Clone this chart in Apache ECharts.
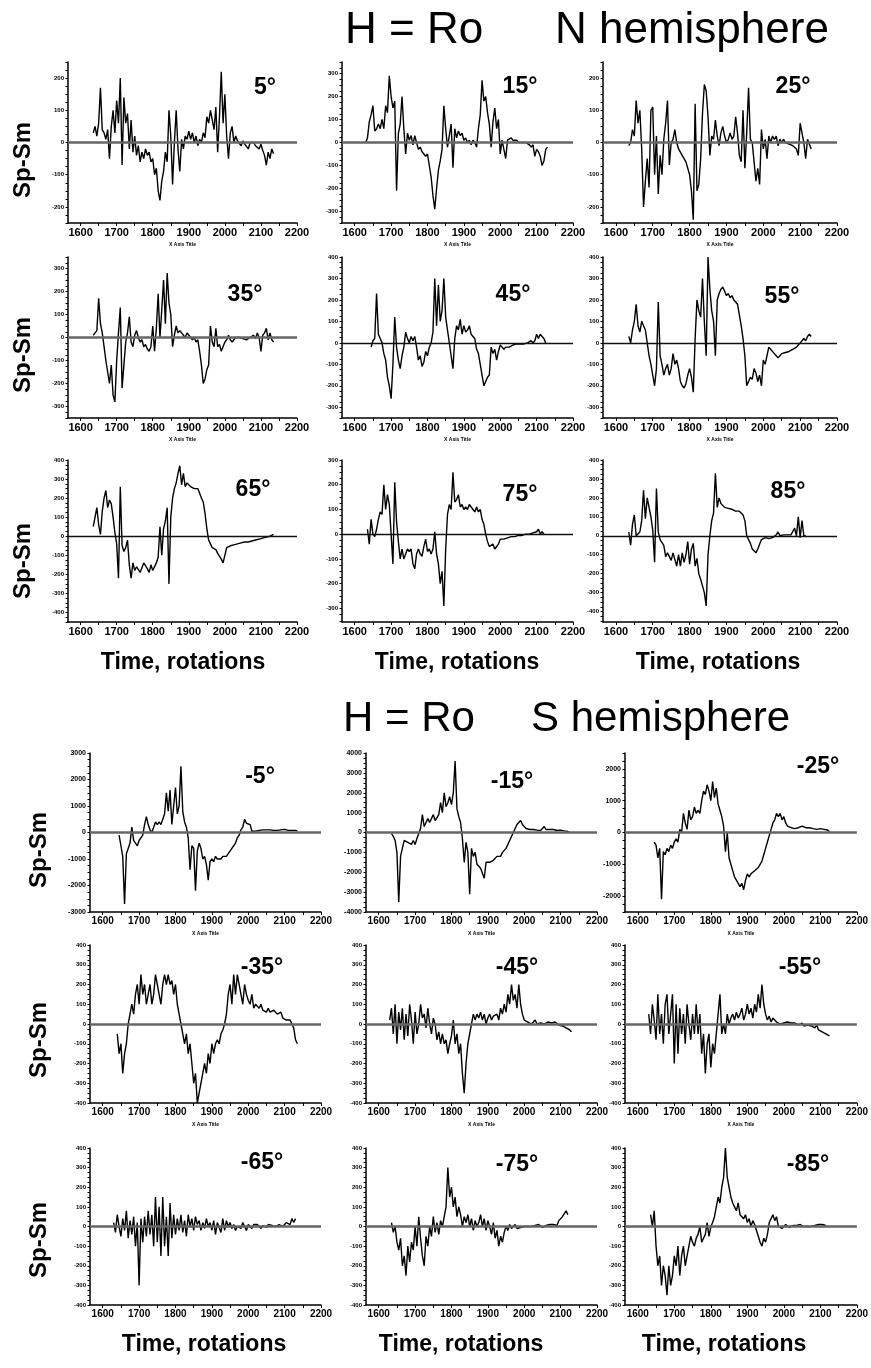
<!DOCTYPE html>
<html>
<head>
<meta charset="utf-8">
<script src="https://cdn.jsdelivr.net/npm/echarts@6/dist/echarts.min.js"></script>
<style>
html, body { margin: 0; padding: 0; background: #fff; }
#chart { width: 871px; height: 1368px; }
</style>
</head>
<body>
<div id="chart"></div>
<script>
// Carrington rotation numbers (every 5th rotation)
var rotations = [
  1625, 1630, 1635, 1640, 1645, 1650, 1655, 1660, 1665, 1670,
  1675, 1680, 1685, 1690, 1695, 1700, 1705, 1710, 1715, 1720,
  1725, 1730, 1735, 1740, 1745, 1750, 1755, 1760, 1765, 1770,
  1775, 1780, 1785, 1790, 1795, 1800, 1805, 1810, 1815, 1820,
  1825, 1830, 1835, 1840, 1845, 1850, 1855, 1860, 1865, 1870,
  1875, 1880, 1885, 1890, 1895, 1900, 1905, 1910, 1915, 1920,
  1925, 1930, 1935, 1940, 1945, 1950, 1955, 1960, 1965, 1970,
  1975, 1980, 1985, 1990, 1995, 2000, 2005, 2010, 2015, 2020,
  2025, 2030, 2035, 2040, 2045, 2050, 2055, 2060, 2065, 2070,
  2075, 2080, 2085, 2090, 2095, 2100, 2105, 2110, 2115, 2120,
  2125, 2130, 2135, 2140
];

// N hemisphere, Sp-Sm
var n05 = [
  null, null, 30, 50, 20, 60, 170, 40, 30, 10,
  40, -50, 50, 100, 30, 130, 60, 200, -70, 140,
  60, 90, -20, 70, -30, 20, -40, -10, -60, -30,
  -50, -20, -40, -30, -60, -50, -100, -80, -150, -180,
  -120, -90, -30, -60, 100, 20, -130, 0, 100, -20,
  -90, 10, -20, 20, 10, 35, 10, 30, 0, 20,
  -10, 10, 0, 30, 15, 80, 60, 100, 70, 40,
  110, -30, 80, 220, 60, 150, 20, -50, 30, 50,
  0, 20, 5, 10, -10, 5, -5, 0, -20, 0,
  5, 0, -10, -15, -20, -5, -25, -40, -70, -30,
  -50, -20, -35, null
];
var n15 = [
  null, 0, 20, 90, 120, 160, 50, 60, 80, 60,
  100, 60, 160, 130, 290, 200, 150, 180, -210, 40,
  80, 200, 60, -50, 40, 10, 30, -10, 30, 0,
  -30, -20, -40, -50, -60, -50, -100, -150, -230, -290,
  -200, -120, -80, -30, 160, 60, -20, 30, 80, -110,
  60, 20, 50, 30, 40, 10, 20, 0, 10, -10,
  10, 0, -20, 60, 120, 270, 180, 200, 130, 80,
  -20, 90, 150, 60, 100, -50, 10, -30, -70, 10,
  10, 20, 10, 15, 10, 0, 5, 0, -5, 0,
  -5, -10, -20, -10, -60, -30, -40, -60, -100, -80,
  -30, -20, null, null
];
var n25 = [
  null, null, -10, 0, 40, 20, 130, 60, 100, -20,
  -200, -120, -50, -140, 100, 110, -100, 20, -160, -40,
  -100, 10, 60, 130, -70, 0, 10, 40, 0, -20,
  -30, -40, -50, -60, -80, -100, -150, -240, 120, -150,
  -130, -50, 90, 180, 160, 80, -40, 20, 10, 70,
  20, -10, 30, 50, 20, 0, 10, 30, 10, 20,
  80, 30, -40, -60, 100, -80, 30, 170, 10, 0,
  -60, -120, -80, -130, 40, -20, 10, -50, 20, 0,
  20, 10, 20, -10, 10, 0, 10, 0, 5, -5,
  0, -10, -5, -20, -40, 60, 30, 0, -50, 10,
  10, -20, null, null
];
var n35 = [
  null, null, 10, 20, 30, 170, 60, 20, -40, -100,
  -150, -200, -120, -250, -280, -100, 20, 130, -220, -120,
  -20, 20, 90, -20, -40, 10, 30, 0, -20, -10,
  -40, -30, -50, -60, -40, 50, -60, 40, 190, 0,
  120, 250, 60, 280, 150, 100, -40, 10, 50, 20,
  30, 20, 20, 0, 20, 10, 10, -10, 0, -20,
  -10, -60, -120, -200, -180, -140, -120, 50, -20, -40,
  40, -40, -30, -60, -40, -20, -10, 10, -10, -20,
  -10, 0, -5, 0, 0, -5, 0, -10, -10, 0,
  0, 10, -5, 20, 0, -60, 10, 20, 40, -10,
  20, -10, -20, null
];
var n45 = [
  null, null, null, null, -20, 10, 20, 230, 40, 20,
  0, -50, -80, -160, -200, -260, -100, 120, -20, -80,
  -120, -60, -20, 50, 20, 0, 30, 10, 30, -20,
  -80, -60, -110, -90, -40, -60, -20, 0, 50, 300,
  80, 270, 100, 150, 300, 120, 60, 0, -60, -120,
  20, 80, 60, 110, 40, 80, 50, 60, 80, 40,
  30, 20, -30, -50, -100, -150, -200, -180, -160, -150,
  -20, -50, -30, -80, -40, -10, -20, -30, -20, -20,
  -20, -15, -10, -10, -5, -10, -5, 0, -5, 0,
  0, 5, 10, 0, 10, 40, 20, 40, 30, 20,
  0, null, null, null
];
var n55 = [
  null, null, 30, 0, 60, 100, 180, 80, 50, 100,
  80, 60, 0, -60, -100, -150, -200, -120, 190, -60,
  -100, -150, -120, -100, -150, -120, -50, -100, -80, -120,
  -180, -200, -210, -190, -150, -120, -160, -230, 20, 200,
  150, 120, 300, 100, -60, 400, 250, 150, 100, -60,
  200, 230, 250, 260, 240, 220, 230, 210, 220, 200,
  190, 180, 130, 80, 20, -60, -200, -180, -160, -170,
  -120, -140, -180, -150, -200, -80, -100, -60, -20, -30,
  -40, -50, -60, -70, -60, -50, -50, -45, -40, -40,
  -35, -30, -30, -20, -10, 0, 10, 20, 10, 30,
  40, 30, null, null
];
var n65 = [
  null, null, 50, 100, 150, 60, 10, 130, 200, 240,
  150, 190, 170, 100, 20, -40, -220, 260, -50, -80,
  -60, -20, -150, -220, -140, -180, -160, -150, -190, -200,
  -140, -130, -170, -190, -150, -180, -170, -140, -110, 50,
  -100, 40, 80, 150, -250, 100, 200, 250, 280, 330,
  370, 270, 330, 260, 280, 290, 260, 270, 250, 260,
  250, 240, 200, 180, 120, 40, -20, -40, -60, -70,
  -70, -90, -100, -120, -140, -150, -60, -70, -50, -50,
  -45, -45, -40, -40, -35, -35, -30, -30, -30, -25,
  -25, -20, -20, -15, -15, -10, -10, -10, -5, -5,
  0, 5, 10, null
];
var n75 = [
  null, null, 20, -40, 60, 0, -10, 20, 60, 90,
  80, 200, 100, 160, 120, 0, -120, 210, 50, -30,
  -100, -60, -100, -80, -60, -70, -60, -120, -140, -80,
  -60, -80, -90, -50, -20, -70, -60, -80, -60, 10,
  -80, -120, -200, -150, -290, -60, 80, 120, 100, 250,
  130, 140, 160, 110, 120, 100, 110, 100, 120, 110,
  100, 90, 110, 90, 100, 60, 40, 0, -30, -50,
  -50, -40, -60, -60, -40, -20, -25, -20, -20, -15,
  -15, -10, -10, -10, -10, -5, -5, -5, 0, 0,
  0, 0, 5, 5, 5, 10, 20, 0, 10, 0,
  null, null, null, null
];
var n85 = [
  null, null, 20, -50, 60, 110, 0, 10, 20, 80,
  240, 90, 200, 150, 100, 30, -140, 250, 20, -20,
  -20, -50, -110, -90, -100, -130, -90, -80, -160, -100,
  -160, -90, -140, -100, -30, -150, -70, -40, -160, -120,
  -200, -230, -230, -300, -370, -100, 0, 80, 120, 330,
  150, 200, 170, 160, 150, 140, 145, 150, 140, 150,
  130, 140, 130, 120, 110, 80, 0, -20, -40, -70,
  -80, -90, -70, -60, -20, -20, -10, -10, -15, -5,
  -10, 0, 5, 20, 0, 0, 5, 0, 5, 10,
  5, 10, 40, 0, 100, -10, 80, 0, 0, null,
  null, null, null, null
];

// S hemisphere, Sp-Sm
var s05 = [
  null, null, null, null, -100, -500, -900, -2700, -800, -600,
  -400, 200, -300, -400, -500, -300, -200, -100, 300, 600,
  300, 100, 0, 200, 400, 300, 400, 300, 500, 700,
  1500, 800, 1600, 300, 1000, 1700, 700, 1000, 2500, 800,
  400, 200, -200, -1400, -500, -600, -2200, -700, -400, -600,
  -1000, -900, -1200, -1800, -1100, -1000, -1100, -900, -1000, -950,
  -1000, -900, -850, -900, -800, -700, -600, -500, -400, -200,
  -100, 100, 200, 500, 350, 400, 300, 50, 80, 50,
  60, 80, 60, 100, 80, 100, 80, 100, 150, 80,
  100, 80, 150, 100, 80, 120, 100, 80, 150, 80,
  100, 80, 60, null
];
var s15 = [
  null, null, -50, -200, -400, -1000, -3500, -1200, -800, -400,
  -300, -500, -400, -600, -400, -600, -300, -200, 200, 900,
  300, 500, 700, 500, 500, 900, 600, 700, 900, 1500,
  1000, 2000, 1300, 1500, 1800, 1400, 2000, 3600, 1200, 800,
  500, -300, -1500, -500, -1000, -3100, -800, -1200, -1000, -1600,
  -1500, -1800, -1700, -2300, -1500, -1600, -1500, -1400, -1400, -1300,
  -1200, -1100, -1200, -1000, -900, -800, -600, -400, -200, 0,
  200, 400, 300, 600, 400, 500, 200, 100, 150, 100,
  150, 100, 120, 150, 100, 200, 300, 150, 200, 150,
  120, 150, 200, 100, 150, 120, 100, 80, 100, 50,
  0, null, null, null
];
var s25 = [
  null, null, null, null, -300, -400, -800, -500, -2100, -600,
  -700, -500, -600, -400, -500, -300, -200, -300, 100, 0,
  600, 300, 100, 700, 400, 500, 800, 600, 700, 600,
  1000, 1300, 1200, 1500, 1300, 1000, 1600, 1100, 1400, 900,
  700, 500, 200, -600, 0, -800, -1000, -1200, -1400, -1500,
  -1600, -1700, -1600, -1800, -1500, -1300, -1400, -1300, -1300, -1200,
  -1200, -1100, -1000, -900, -700, -500, -300, -100, 100, 300,
  400, 600, 500, 600, 400, 500, 300, 200, 150, 150,
  150, 120, 150, 150, 150, 200, 150, 150, 120, 150,
  150, 120, 150, 100, 150, 120, 100, 100, 100, 80,
  20, null, null, null
];
var s35 = [
  null, null, null, -50, -150, -100, -250, -150, -100, 0,
  50, 100, 50, 150, 200, 100, 250, 150, 200, 100,
  150, 200, 100, 150, 250, 200, 150, 100, 200, 250,
  200, 250, 200, 220, 150, 200, 100, 50, 0, -50,
  -100, -50, -150, -100, -200, -300, -250, -400, -350, -300,
  -250, -200, -250, -150, -200, -100, -150, -100, -80, -100,
  -50, -30, 0, 50, 150, 200, 100, 250, 150, 250,
  200, 150, 100, 200, 150, 120, 100, 150, 80, 100,
  100, 80, 100, 70, 80, 60, 80, 60, 50, 70,
  60, 50, 40, 60, 30, 40, 20, 30, 20, 0,
  -20, -80, -100, null
];
var s45 = [
  null, 20, 80, -50, 100, -100, 60, -30, 80, -80,
  50, -60, 100, 20, -100, 60, -50, 0, 100, 30,
  50, -20, 80, 0, -50, 30, 0, -80, -40, -100,
  -50, -100, -80, -150, -100, -60, 20, -100, -50, -150,
  -100, -250, -350, -200, -100, -50, 0, 50, 20, 50,
  30, 60, 20, 50, 0, 30, 50, 20, 40, 30,
  50, 20, 80, 50, 100, 60, 150, 100, 200, 120,
  150, 80, 200, 100, 50, 20, 30, 10, 20, 0,
  10, 20, 0, 10, 5, 10, 0, 5, 10, 0,
  5, 0, 10, 0, -5, 0, -10, 0, -20, -10,
  -30, -40, null, null
];
var s55 = [
  null, 50, -50, 100, 20, -80, 150, -50, 50, -100,
  100, 150, -50, 50, 150, -200, 100, -150, 80, -50,
  50, -100, 100, 0, -80, 50, -50, 100, -50, 50,
  -150, -50, -250, -100, -50, -220, -100, -150, -50, 50,
  150, -50, 0, -50, 50, 0, 30, 50, 20, 60,
  30, 50, 80, 20, 50, 100, 50, 80, 30, 100,
  60, 150, 80, 200, 100, 50, 20, 40, 10, 30,
  20, 10, 20, 0, 10, 5, 0, 10, 0, 5,
  0, 5, 0, -5, 0, 5, -10, 0, -5, 0,
  -10, 0, -20, -5, -30, -20, -40, -30, -50, -40,
  -60, null, null, null
];
var s65 = [
  null, 20, -30, 60, 0, -50, 40, -20, 80, -60,
  30, -40, 50, -100, 20, -300, 40, -80, 50, -50,
  80, -40, 60, -100, 150, -80, 100, -150, 150, -100,
  50, -150, 120, -60, 60, -40, 40, -20, 60, -30,
  30, -50, 60, 0, 40, -20, 50, 10, 30, -20,
  20, -10, 40, 0, 20, -20, 30, -40, 20, 10,
  -30, 40, -20, 30, 0, 20, -10, 10, -20, 0,
  10, -10, 20, 0, -20, 10, 0, -10, 10, 0,
  10, 0, -10, 5, 0, -5, 10, 0, 5, 0,
  0, -10, 10, 20, 0, 10, 20, 30, 10, 40,
  20, 40, null, null
];
var s75 = [
  null, null, 20, -30, 0, -80, -120, -60, -200, -150,
  -250, -100, -180, -80, -120, 0, -100, 50, -60, -150,
  -200, -50, -100, 0, -50, 50, -30, 20, -40, 30,
  0, 50, 100, 300, 150, 200, 100, 150, 50, 100,
  60, 0, 50, 20, 60, 0, 40, -20, 30, 0,
  20, 60, 0, 40, -20, 30, 0, -40, 20, -60,
  -20, -100, -50, -80, -30, 0, -20, 10, -10, 0,
  10, -10, 0, -5, 5, 0, -5, 0, 5, 0,
  0, 5, 0, 10, 0, -5, 0, 5, 0, 10,
  0, 10, 20, 5, 30, 20, 50, 40, 80, 60,
  null, null, null, null
];
var s85 = [
  null, null, 60, 0, 80, -100, -200, -150, -300, -200,
  -250, -350, -200, -300, -250, -150, -200, -100, -250, -150,
  -100, -200, -150, -100, -50, -80, -100, -60, -40, 0,
  -80, -60, -40, 20, -50, 0, 20, 50, 100, 150,
  120, 200, 250, 400, 250, 200, 150, 120, 100, 80,
  120, 60, 50, 40, 60, 20, 40, 0, 30, 10,
  -20, -50, -80, -100, -60, -80, -40, 20, 40, 60,
  30, 50, 0, 10, -10, 0, 10, 0, -5, 0,
  5, 0, 5, 0, 10, 5, 0, 10, 0, 5,
  0, 10, 5, 0, 10, 5, 10, 0, 5, null,
  null, null, null, null
];

var panelData = [n05, n15, n25, n35, n45, n55, n65, n75, n85,
                 s05, s15, s25, s35, s45, s55, s65, s75, s85];
var panelNames = ['5°', '15°', '25°', '35°', '45°', '55°', '65°', '75°', '85°',
                  '-5°', '-15°', '-25°', '-35°', '-45°', '-55°', '-65°', '-75°', '-85°'];
// y axis ranges and label step of each panel
var yMin  = [-250, -350, -250, -350, -350, -350, -450, -355, -455,
             -3000, -4000, -2500, -400, -400, -400, -400, -400, -400];
var yMax  = [250, 350, 250, 350, 400, 400, 400, 300, 400,
             3000, 4000, 2500, 400, 400, 400, 400, 400, 400];
var yStep = [100, 100, 100, 100, 100, 100, 100, 100, 100,
             1000, 1000, 1000, 100, 100, 100, 100, 100, 100];
var xLabels = [1600, 1700, 1800, 1900, 2000, 2100, 2200];

var myChart = echarts.init(document.getElementById('chart'), null, { renderer: 'canvas' });

// panel boxes (plot area of each small chart)
var colLeftN = [68, 342, 603], colWidthN = [229, 231, 234];
var colLeftS = [90, 366, 625], colWidthS = [231, 231, 232];
var rowTop = [62, 257, 460, 753, 945, 1148];
var rowHeight = [161, 161, 162, 159, 158, 157];
var titlePos = [[265, 88], [520, 87], [793, 87],
                [245, 295], [513, 295], [782, 297],
                [253, 490], [520, 495], [788, 492],
                [260, 777], [512, 782], [818, 767],
                [262, 968], [517, 968], [800, 968],
                [262, 1163], [517, 1165], [808, 1165]];
// thick grey zero line on some panels, thin black on the others
var thinZero = [4, 5, 6, 7, 8];

var font = 'Liberation Sans';
var plain = function (v) { return String(v); };
var grids = [], xAxes = [], yAxes = [], series = [];
var graphics = [];

for (var i = 0; i < 18; i++) {
    var row = Math.floor(i / 3), col = i % 3;
    var south = row >= 3;
    grids.push({
        left: south ? colLeftS[col] : colLeftN[col],
        top: rowTop[row],
        width: south ? colWidthS[col] : colWidthN[col],
        height: rowHeight[row]
    });

    var xTicks = [];
    for (var t = 1600; t <= 2200; t += 50) xTicks.push(t);
    var yLabels = [], yTicks = [];
    for (var v = Math.ceil(yMin[i] / yStep[i]) * yStep[i]; v <= yMax[i]; v += yStep[i]) yLabels.push(v);
    for (var w = Math.ceil(yMin[i] / (yStep[i] / 4)) * (yStep[i] / 4); w <= yMax[i]; w += yStep[i] / 4) yTicks.push(w);

    var lastRow = (row === 2 || row === 5);
    xAxes.push({
        gridIndex: i,
        type: 'value',
        min: 1565,
        max: 2200,
        name: lastRow ? '' : 'X Axis Title',
        nameLocation: 'middle',
        nameGap: 19,
        nameTextStyle: { fontSize: 5, fontWeight: 'bold', color: '#000', fontFamily: font },
        axisLine: { onZero: false, lineStyle: { color: '#000', width: 1.5 } },
        axisTick: { customValues: xTicks, length: 3, lineStyle: { color: '#000', width: 1 } },
        axisLabel: { customValues: xLabels, formatter: plain, fontSize: south ? 10 : 11, fontWeight: 'bold', color: '#000', margin: 4, fontFamily: font },
        splitLine: { show: false }
    });
    yAxes.push({
        gridIndex: i,
        type: 'value',
        min: yMin[i],
        max: yMax[i],
        axisLine: { show: true, onZero: false, lineStyle: { color: '#000', width: 1.5 } },
        axisTick: { show: true, customValues: yTicks, length: 2.5, lineStyle: { color: '#000', width: 1 } },
        axisLabel: { customValues: yLabels, formatter: plain, fontSize: south && i < 12 ? 7 : 6, fontWeight: 'bold', color: '#000', margin: 4, fontFamily: font },
        splitLine: { show: false }
    });

    var pts = [];
    for (var k = 0; k < rotations.length; k++) {
        if (panelData[i][k] !== null && panelData[i][k] !== undefined) pts.push([rotations[k], panelData[i][k]]);
    }
    var thin = thinZero.indexOf(i) >= 0;
    series.push({
        type: 'line',
        xAxisIndex: i,
        yAxisIndex: i,
        data: pts,
        symbol: 'none',
        lineStyle: { color: '#000', width: 1.4 },
        markLine: {
            silent: true,
            symbol: 'none',
            label: { show: false },
            lineStyle: thin ? { color: '#111', width: 1.3, type: 'solid' } : { color: '#666', width: 2.6, type: 'solid' },
            data: [{ yAxis: 0 }]
        }
    });

    graphics.push({
        type: 'text', x: titlePos[i][0], y: titlePos[i][1],
        style: { text: panelNames[i], font: 'bold 23px ' + font, fill: '#000', textAlign: 'center', textVerticalAlign: 'middle' }
    });
}

// "Sp-Sm" axis titles, rotated
var spsmPos = [[23, 160], [23, 355], [23, 561], [39, 850], [39, 1040], [39, 1240]];
spsmPos.forEach(function (p) {
    graphics.push({
        type: 'text', x: p[0], y: p[1], rotation: Math.PI / 2,
        style: { text: 'Sp-Sm', font: 'bold 24px ' + font, fill: '#000', textAlign: 'center', textVerticalAlign: 'middle' }
    });
});
// "Time, rotations" under the last rows
[[183, 663], [457, 663], [718, 663], [204, 1345], [461, 1345], [724, 1345]].forEach(function (p) {
    graphics.push({
        type: 'text', x: p[0], y: p[1],
        style: { text: 'Time, rotations', font: 'bold 23px ' + font, fill: '#000', textAlign: 'center', textVerticalAlign: 'middle' }
    });
});
// section headings
[['H = Ro', 345, 31, 44], ['N hemisphere', 555, 31, 44], ['H = Ro', 343, 719, 42], ['S hemisphere', 531, 719, 42]].forEach(function (h) {
    graphics.push({
        type: 'text', x: h[1], y: h[2],
        style: { text: h[0], font: h[3] + 'px ' + font, fill: '#000', textAlign: 'left', textVerticalAlign: 'middle' }
    });
});

myChart.setOption({
    animation: false,
    backgroundColor: '#fff',
    grid: grids,
    xAxis: xAxes,
    yAxis: yAxes,
    series: series,
    graphic: graphics
});
</script>
</body>
</html>
